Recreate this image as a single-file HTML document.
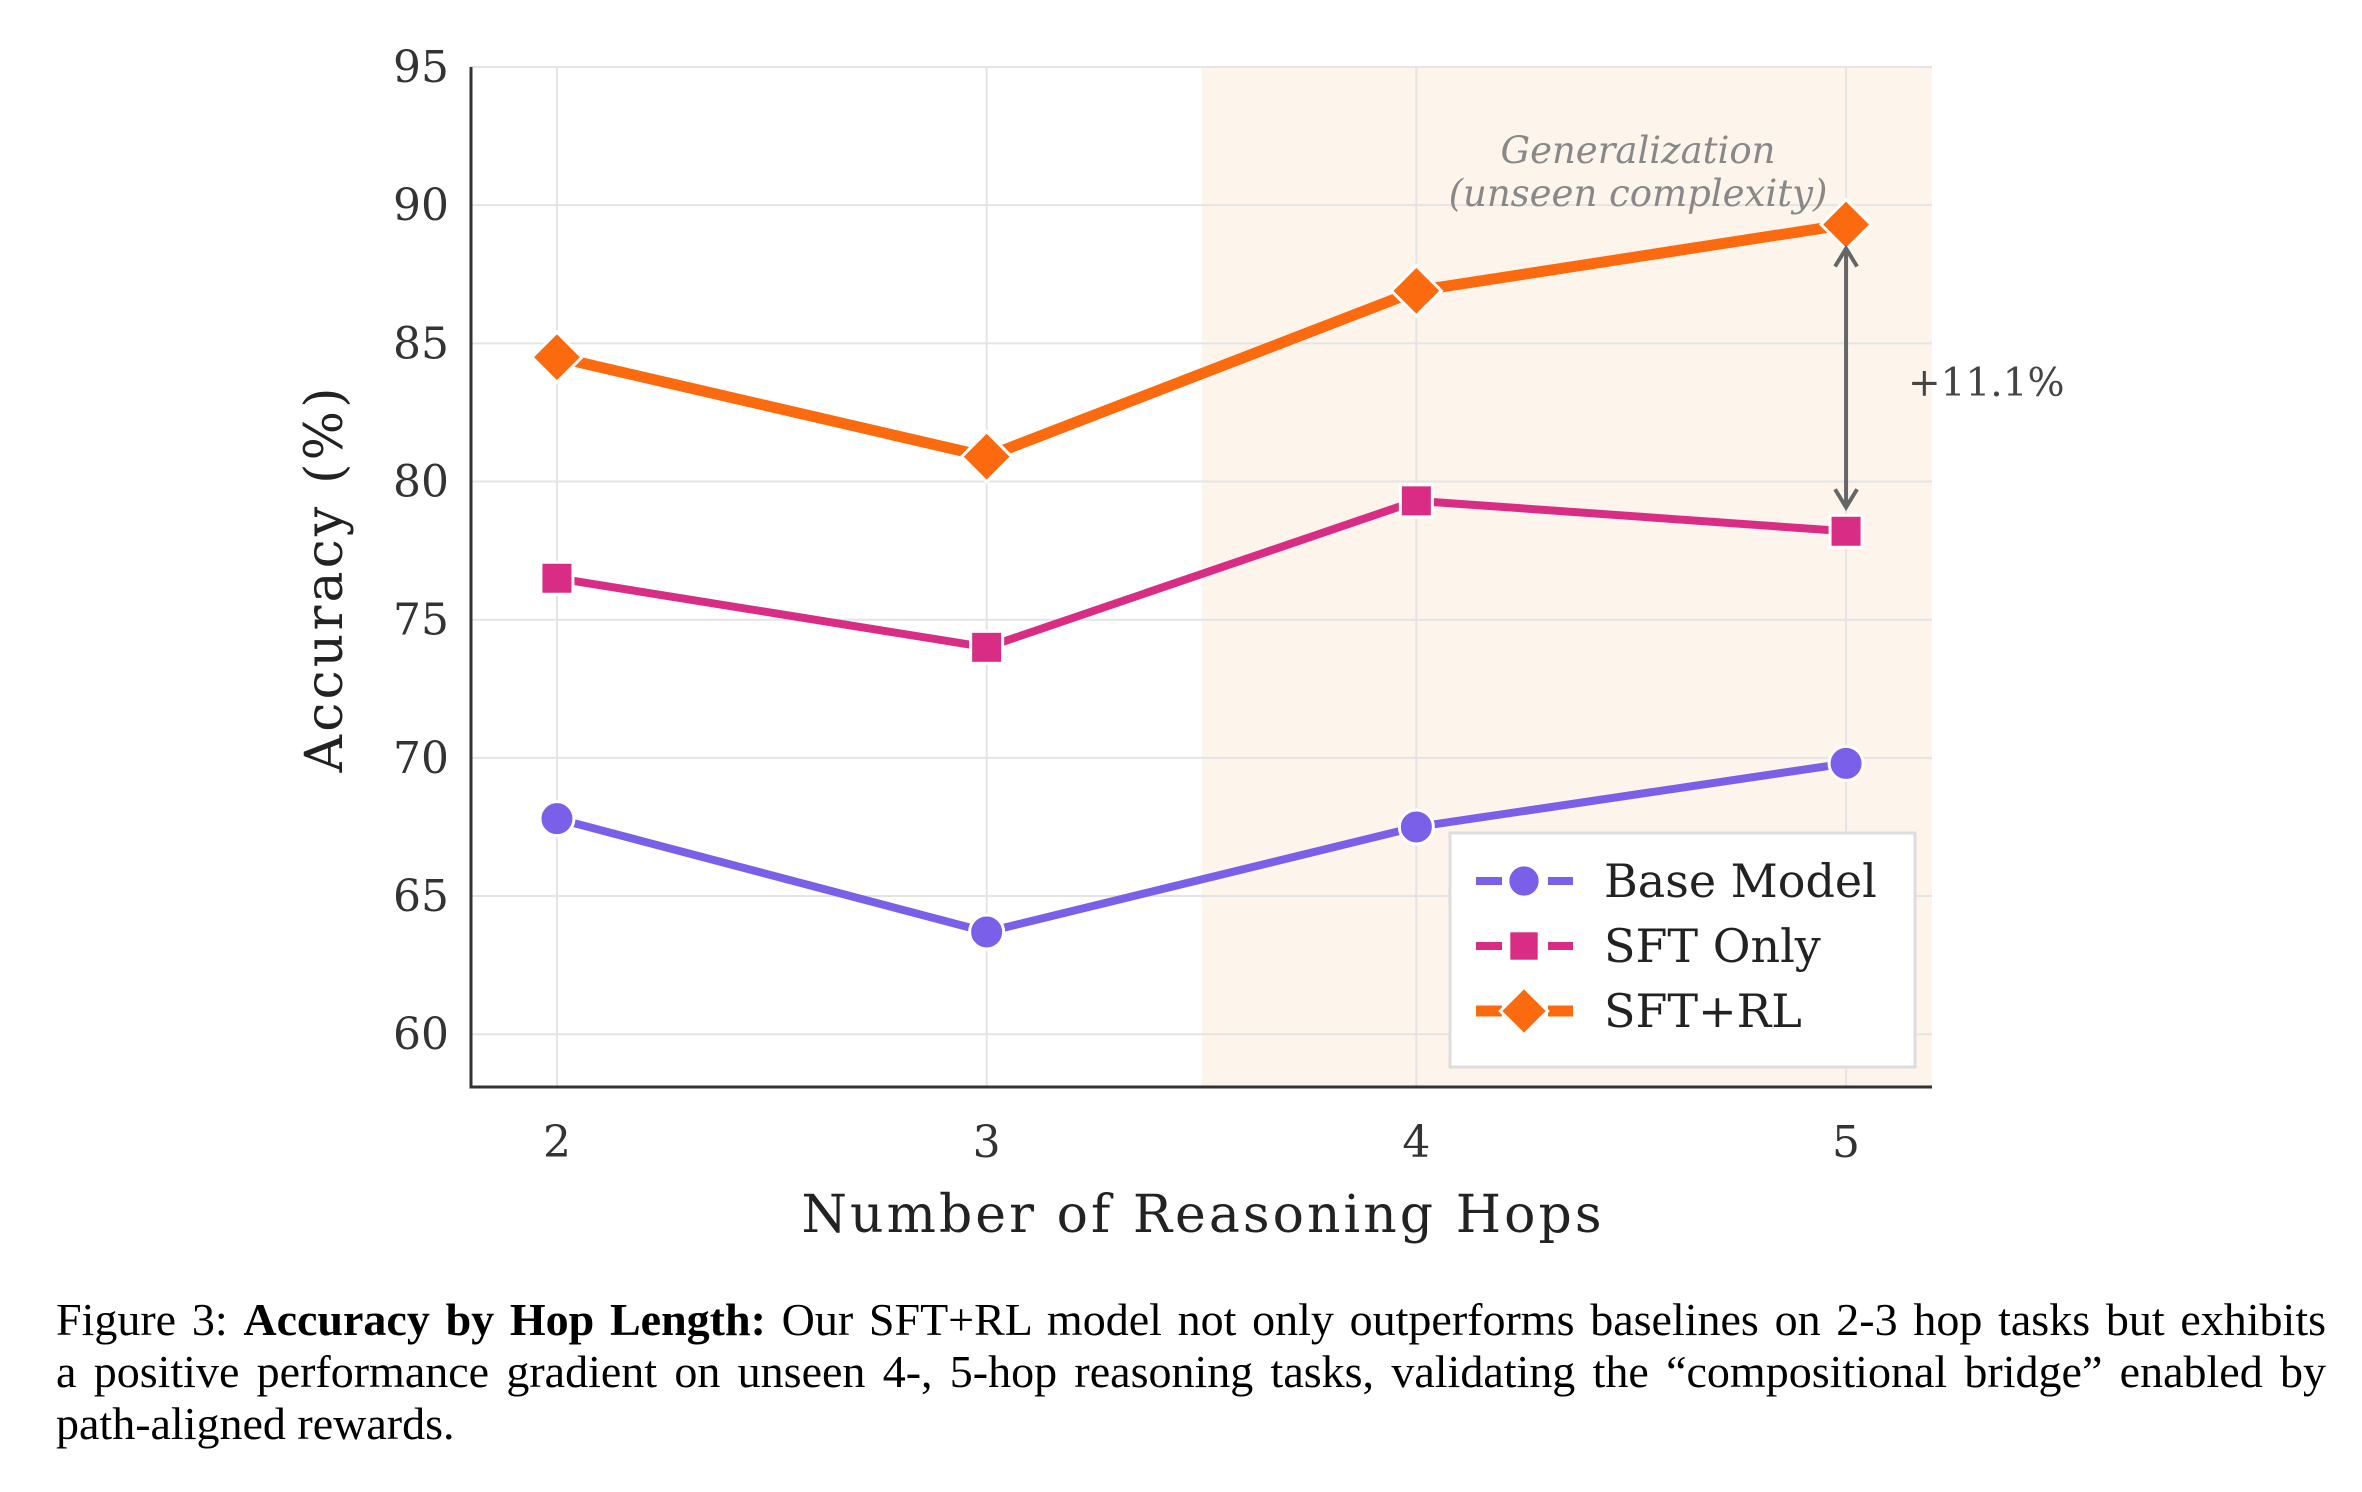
<!DOCTYPE html>
<html><head><meta charset="utf-8"><style>
html,body{margin:0;padding:0;background:#fff;}
#wrap{position:relative;width:2362px;height:1492px;overflow:hidden;}
#cap{position:absolute;left:56px;top:1294px;width:2270px;font-family:"Liberation Serif",serif;font-size:46px;line-height:52px;color:#000;}
#cap .j{text-align:justify;text-align-last:justify;}
</style></head><body>
<div id="wrap">
<svg id="chart" width="2362" height="1250" style="position:absolute;left:0;top:0;font-family:'DejaVu Serif',serif;"></svg>
<div id="cap"><div class="j">Figure 3: <b>Accuracy by Hop Length:</b> Our SFT+RL model not only outperforms baselines on 2-3 hop tasks but exhibits</div><div class="j">a positive performance gradient on unseen 4-, 5-hop reasoning tasks, validating the “compositional bridge” enabled by</div><div>path-aligned rewards.</div></div>
</div>
<script>
const hops=[2,3,4,5];
const baseVals=[67.8,63.7,67.5,69.8];
const sftVals=[76.5,74.0,79.3,78.2];
const rlVals=[84.5,80.9,86.9,89.3];
const yTicks=[60,65,70,75,80,85,90,95];
const xTicks=[2,3,4,5];
const NS='http://www.w3.org/2000/svg';
const svg=document.getElementById('chart');
const L=471,R=1932,T=67,B=1087;
const xMin=1.8,xMax=5.2,yMin=58.09,yMax=95;
const X=v=>L+(v-xMin)/(xMax-xMin)*(R-L);
const Y=v=>T+(yMax-v)/(yMax-yMin)*(B-T);
function mk(tag,attrs,parent){const e=document.createElementNS(NS,tag);for(const k in attrs)e.setAttribute(k,attrs[k]);(parent||svg).appendChild(e);return e;}
let e;
e=mk('rect',{x:X(3.5),y:T,width:R-X(3.5),height:B-T,fill:'#fdf4ec'});


yTicks.forEach(t=>{
 e=mk('line',{x1:L,x2:R,y1:Y(t),y2:Y(t),stroke:'#e4e4e4','stroke-width':2});
 
 
 e=mk('text',{x:L-22,y:Y(t)+15,'text-anchor':'end','font-size':44,fill:'#333'});e.textContent=t;
 
 
});
xTicks.forEach(t=>{
 e=mk('line',{x1:X(t),x2:X(t),y1:T,y2:B,stroke:'#e4e4e4','stroke-width':2});
 
 
 e=mk('text',{x:X(t),y:B+70,'text-anchor':'middle','font-size':44,fill:'#333'});e.textContent=t;
 
 
});
e=mk('path',{d:`M${L},${T} V${B} H${R}`,fill:'none',stroke:'#333','stroke-width':3});


e=mk('text',{x:(L+R)/2,y:1232,'text-anchor':'middle','font-size':52,fill:'#222',textLength:800});e.textContent='Number of Reasoning Hops';


e=mk('text',{x:0,y:0,'text-anchor':'middle','font-size':52,fill:'#222',transform:`translate(342,580) rotate(-90)`,textLength:385});e.textContent='Accuracy (%)';


function marker(type,cx,cy,color,g,sc){
 sc=sc||1;
 if(type==='circle')return mk('circle',{cx,cy,r:17*sc,fill:color,stroke:'#fff','stroke-width':3},g);
 if(type==='square')return mk('rect',{x:cx-16*sc,y:cy-16*sc,width:32*sc,height:32*sc,fill:color,stroke:'#fff','stroke-width':3},g);
 const d=25*sc;return mk('path',{d:`M${cx},${cy-d} L${cx+d},${cy} L${cx},${cy+d} L${cx-d},${cy} Z`,fill:color,stroke:'#fff','stroke-width':3},g);
}
const series=[
 {name:'base-model',vals:baseVals,color:'#7a5fe8',w:8,m:'circle'},
 {name:'sft-only',vals:sftVals,color:'#d92d85',w:8,m:'square'},
 {name:'sft-rl',vals:rlVals,color:'#fb6a0e',w:11,m:'diamond'}];
series.forEach(s=>{
 const g=mk('g',{});
 
 
 e=mk('polyline',{points:hops.map((h,i)=>X(h)+','+Y(s.vals[i])).join(' '),fill:'none',stroke:s.color,'stroke-width':s.w,'stroke-linejoin':'round'},g);
 
 
 hops.forEach((h,i)=>{
  e=marker(s.m,X(h),Y(s.vals[i]),s.color,g);
  
  
 });
});
const ax=X(5),a1=Y(rlVals[3])+24,a2=Y(sftVals[3])-24;
e=mk('path',{d:`M${ax},${a1} V${a2} M${ax-11},${a1+18} L${ax},${a1} L${ax+11},${a1+18} M${ax-11},${a2-18} L${ax},${a2} L${ax+11},${a2-18}`,fill:'none',stroke:'#666','stroke-width':4});


e=mk('text',{x:1908,y:396,'font-size':39,fill:'#444'});e.textContent='+'+(rlVals[3]-sftVals[3]).toFixed(1)+'%';


e=mk('text',{x:1638,y:163,'text-anchor':'middle','font-size':37,'font-style':'italic',fill:'#888'});e.textContent='Generalization';


e=mk('text',{x:1638,y:206,'text-anchor':'middle','font-size':37,'font-style':'italic',fill:'#888'});e.textContent='(unseen complexity)';


const lg=mk('g',{});


mk('rect',{x:1450,y:833,width:465,height:234,fill:'#fff',stroke:'#ddd','stroke-width':3},lg);
const labels=['Base Model','SFT Only','SFT+RL'];
series.forEach((s,i)=>{
 const y=881+i*65;
 const g=mk('g',{},lg);
 
 
 mk('line',{x1:1476,x2:1573,y1:y,y2:y,stroke:s.color,'stroke-width':s.w,'stroke-dasharray':'26,10'},g);
 marker(s.m,1524,y,s.color,g,0.95);
 const t=mk('text',{x:1604,y:y+16,'font-size':46,fill:'#222'},g);t.textContent=labels[i];
});
</script>
</body></html>
